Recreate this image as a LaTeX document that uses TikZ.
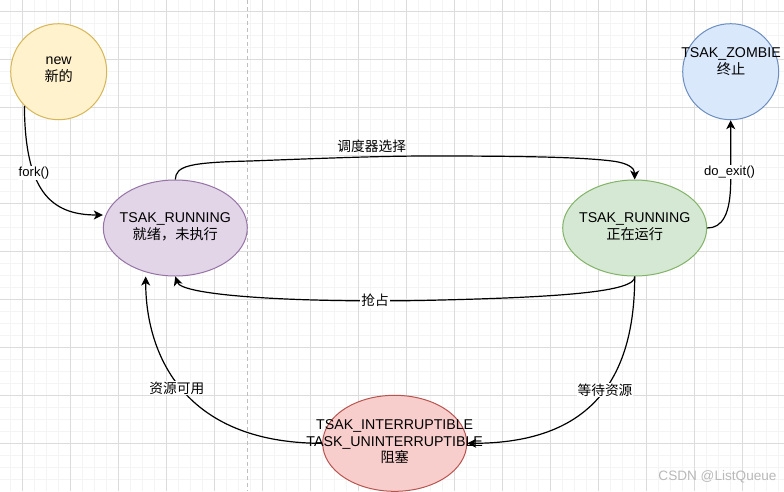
\documentclass[tikz,border=0pt]{standalone}
\usepackage{fontspec}
\setmainfont{Liberation Sans}
\newfontfamily\cjk{Noto Sans CJK SC}
\usetikzlibrary{shapes.geometric,arrows.meta,calc}
\definecolor{gridmaj}{RGB}{220,220,220}
\definecolor{gridmin}{RGB}{244,244,244}
\definecolor{yfill}{HTML}{FFF2CC}\definecolor{ydraw}{HTML}{D6B656}
\definecolor{pfill}{HTML}{E1D5E7}\definecolor{pdraw}{HTML}{9673A6}
\definecolor{gfill}{HTML}{D5E8D4}\definecolor{gdraw}{HTML}{82B366}
\definecolor{bfill}{HTML}{DAE8FC}\definecolor{bdraw}{HTML}{6C8EBF}
\definecolor{rfill}{HTML}{F8CECC}\definecolor{rdraw}{HTML}{B85450}
\begin{document}
\begin{tikzpicture}[x=1pt,y=-1pt,
  ellstate/.style={ellipse, line width=1pt, inner sep=0pt, minimum width=144pt, minimum height=96pt},
  circstate/.style={circle, line width=1pt, inner sep=0pt, minimum size=96pt},
  txt/.style={align=center, inner sep=0pt, font=\fontsize{14.2pt}{16.6pt}\selectfont},
  edge/.style={line width=1.2pt, -{Stealth[length=9pt,width=9pt,inset=2.5pt]}},
  elabel/.style={fill=white, inner sep=1pt, font=\fontsize{13.1pt}{15pt}\selectfont},
  clabel/.style={fill=white, inner sep=1pt, font=\fontsize{13.7pt}{15pt}\selectfont\cjk}]
\useasboundingbox (0,0) rectangle (784,491);
\fill[white] (0,0) rectangle (784,491);
% grid
\foreach \i in {0,...,64} {\draw[gridmin, line width=1pt] ({10.3+12*\i},0) -- ({10.3+12*\i},491);}
\foreach \j in {1,...,40} {\draw[gridmin, line width=1pt] (0,{-0.7+12*\j}) -- (784,{-0.7+12*\j});}
\foreach \i in {0,...,15} {\draw[gridmaj, line width=1pt] ({22.3+48*\i},0) -- ({22.3+48*\i},491);}
\foreach \j in {0,...,9} {\draw[gridmaj, line width=1pt] (0,{11.3+48*\j}) -- (784,{11.3+48*\j});}
% page boundary
\draw[gray!50, line width=0.9pt, dash pattern=on 4pt off 3pt] (247.3,0) -- (247.3,491);
% states
\node[circstate, fill=yfill, draw=ydraw] (new) at (58.7,71.7) {};
\node[circstate, fill=bfill, draw=bdraw] (zombie) at (730.7,71.7) {};
\node[ellstate, fill=pfill, draw=pdraw] (run) at (175.3,228) {};
\node[ellstate, fill=gfill, draw=gdraw] (exe) at (634.7,228) {};
\node[ellstate, fill=rfill, draw=rdraw] (blk) at (394.7,443.3) {};
\node[txt] (newt) at (58.7,70) {new\\{\cjk 新的}};
\node[txt] (zombiet) at (731,61.3) {TSAK\_ZOMBIE\\{\cjk 终止}};
\node[txt] (runt) at (175.3,226.7) {TSAK\_RUNNING\\{\cjk 就绪，未执行}};
\node[txt] (exet) at (634.7,226.7) {TSAK\_RUNNING\\{\cjk 正在运行}};
% edges
\draw[edge] (new.225.5) .. controls (25,190) and (50,215) .. ([yshift=13pt]run.west);
\draw[edge] (run.north) .. controls (176,166) and (188,162.5) .. (250,161)
  .. controls (330,158) and (380,156) .. (430,156)
  .. controls (520,156) and (580,157) .. (612,161)
  .. controls (628,163) and (634.7,168) .. (exe.north);
\draw[edge] (exe.south) .. controls (636,292) and (560,297.5) .. (420,300.5)
  .. controls (300,302.5) and (182,296) .. (run.south);
\draw[edge] (exe.south) .. controls (634.7,380) and (590,443.3) .. (blk.east);
\draw[edge] (blk.west) .. controls (180,443.3) and (145.7,350) .. ([xshift=-29.6pt]run.south);
\draw[edge] (exe.east) .. controls (722,228) and (730.7,215) .. (730.7,180) -- (zombie.south);
\node[txt] (blkt) at (394.7,441.7) {TSAK\_INTERRUPTIBLE\\TASK\_UNINTERRUPTIBLE\\{\cjk 阻塞}};
% labels
\node[elabel] (lfork) at (34,173) {fork()};
\node[clabel, fill=none] (lsched) at (371.7,146) {调度器选择};
\node[clabel] (lpre) at (375,300.5) {抢占};
\node[clabel] (lwait) at (605,390) {等待资源};
\node[clabel] (lavail) at (176.8,388) {资源可用};
\node[elabel] (lexit) at (729.5,172) {do\_exit()};
\node[font=\fontsize{13.6pt}{15pt}\selectfont, text=gray!55, inner sep=0pt] (wm) at (717.5,477.3) {CSDN @ListQueue};
\end{tikzpicture}
\end{document}
